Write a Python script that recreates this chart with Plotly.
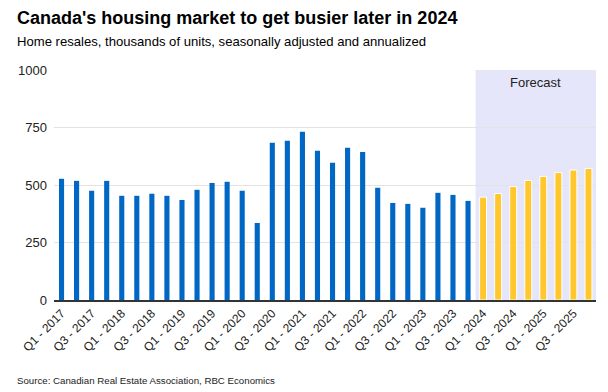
import plotly.graph_objects as go

quarters = [f"Q{q} - {y}" for y in range(2017, 2026) for q in range(1, 5)]
hist_values = [527, 518, 475, 518, 453, 453, 462, 453, 435, 479, 509, 514, 475, 335,
               684, 692, 731, 649, 597, 662, 644, 488, 422, 418, 401, 466, 457, 431]
forecast_values = [447, 463, 493, 520, 537, 554, 565, 572]
hist_x = quarters[:len(hist_values)]
fc_x = quarters[len(hist_values):]
tick_labels = quarters[::2]

# figure is drawn at an 8px page offset, so it is sized 600x384
W, H = 600, 384
L, R, T, B = 46, 12, 62, 92
PH = H - T - B  # plot height in px


def py(p):
    """figure pixel (from top) -> paper y"""
    return (H - B - p) / PH


def px(p):
    return (p - L) / (W - L - R)


fig = go.Figure()
fig.add_trace(go.Bar(x=hist_x, y=hist_values, marker=dict(color="#0067C5", line=dict(width=0)),
                     width=0.34, name="Actual"))
fig.add_trace(go.Bar(x=fc_x, y=forecast_values, marker=dict(color="#FFC72C", line=dict(color="white", width=1)),
                     width=0.46, name="Forecast"))

n_hist = len(hist_values)
fig.add_shape(type="rect", xref="x", yref="paper", x0=n_hist - 0.5, x1=len(quarters) - 0.5,
              y0=0, y1=1, fillcolor="#E6E6FA", line=dict(width=0), layer="below")

fig.update_layout(
    width=W, height=H,
    margin=dict(l=L, r=R, t=T, b=B, autoexpand=False),
    paper_bgcolor="white", plot_bgcolor="white",
    barmode="overlay", showlegend=False,
    font=dict(family="Liberation Sans, Arial, sans-serif", color="#222"),
    xaxis=dict(type="category", categoryorder="array", categoryarray=quarters,
               range=[-0.5, len(quarters) - 0.5], tickmode="array", tickvals=tick_labels,
               ticktext=tick_labels, tickangle=-45, tickfont=dict(size=12, color="#222"),
               showline=True, linecolor="#333", linewidth=1.5, ticks="", showgrid=False,
               automargin=False),
    yaxis=dict(range=[0, 1000], tickvals=[0, 250, 500, 750, 1000], showgrid=True,
               gridcolor="#E3E3E3", gridwidth=1, zeroline=False, showline=False,
               tickfont=dict(size=13, color="#222"), ticklabelstandoff=6, automargin=False),
    annotations=[
        dict(text="<b>Canada's housing market to get busier later in 2024</b>", xref="paper", yref="paper",
             x=px(7), y=py(9.5), xanchor="left", yanchor="middle", showarrow=False,
             font=dict(size=18, color="black")),
        dict(text="Home resales, thousands of units, seasonally adjusted and annualized",
             xref="paper", yref="paper", x=px(7), y=py(33), xanchor="left", yanchor="middle",
             showarrow=False, font=dict(size=13.1, color="black")),
        dict(text="Forecast", xref="x", yref="paper", x=(n_hist - 0.5 + len(quarters) - 0.5) / 2,
             y=py(74), yanchor="middle", showarrow=False, font=dict(size=13, color="#222")),
        dict(text="Source: Canadian Real Estate Association, RBC Economics", xref="paper", yref="paper",
             x=px(7), y=py(372), xanchor="left", yanchor="middle", showarrow=False,
             font=dict(size=9.7, color="#222")),
    ],
)

fig.write_html("out.html")
